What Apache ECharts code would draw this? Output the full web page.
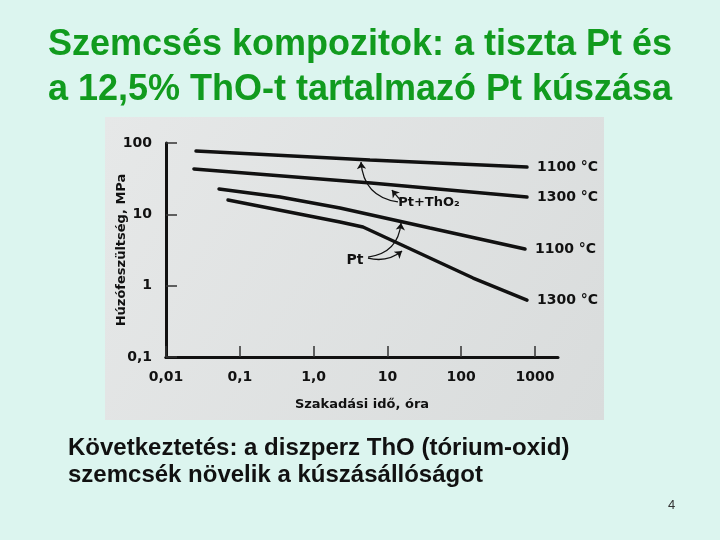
<!DOCTYPE html>
<html>
<head>
<meta charset="utf-8">
<script src="https://cdn.jsdelivr.net/npm/echarts@6/dist/echarts.min.js"></script>
<style>html,body{margin:0;padding:0;background:#dcf5ef;}#c{width:720px;height:540px;}</style>
</head>
<body>
<div id="c"></div>
<script>
// ---- data ----
const titleLines = ['Szemcsés kompozitok: a tiszta Pt és', 'a 12,5% ThO-t tartalmazó Pt kúszása'];
const noteLines = ['Következtetés: a diszperz ThO (tórium-oxid)', 'szemcsék növelik a kúszásállóságot'];
const pageNo = '4';
const xAxisName = 'Szakadási idő, óra';
const yAxisName = 'Húzófeszültség, MPa';
const xTickValues = [0.01, 0.1, 1, 10, 100, 1000];
const xTickLabels = ['0,01', '0,1', '1,0', '10', '100', '1000'];
const yTickValues = [0.1, 1, 10, 100];
const yTickLabels = ['0,1', '1', '10', '100'];
const seriesNames = ['Pt+ThO₂ 1100 °C', 'Pt+ThO₂ 1300 °C', 'Pt 1100 °C', 'Pt 1300 °C'];
const endTexts = ['1100 °C', '1300 °C', '1100 °C', '1300 °C'];
// [time (h), stress (MPa)]
const ptTho2_1100 = [[0.0255, 77.3], [5.8, 57.8], [779, 46]];
const ptTho2_1300 = [[0.0239, 43.2], [6.0, 27.5], [779, 17.5]];
const pt_1100 = [[0.0523, 22.6], [0.351, 17.5], [2.28, 12.3], [37.8, 6.43], [732, 3.26]];
const pt_1300 = [[0.0692, 15.9], [2.28, 7.8], [4.67, 6.64], [145, 1.28], [779, 0.628]];
// annotations: label positions and arrows [from, to, curveness]
const labelThO2 = {text: 'Pt+ThO₂', at: [36.6, 14.4], size: 13};
const labelPt = {text: 'Pt', at: [3.64, 2.29], size: 14};
const arrows = [
  [[13.9, 14.9], [4.39, 54.2], 0.4],
  [[15.3, 15.4], [11.5, 21.9], 0],
  [[5.46, 2.52], [15.3, 7.55], -0.4],
  [[5.46, 2.44], [15.8, 3.06], -0.25]
];

const FONT = 'DejaVu Sans';
function findLabel(vals, labels, v) {
  const i = vals.findIndex(t => Math.abs(Math.log10(t) - Math.log10(v)) < 1e-6);
  return i >= 0 ? labels[i] : '';
}
function labelPoint(l) {
  return {coord: l.at, value: l.text, symbol: 'rect', symbolSize: [1, 1], itemStyle: {color: 'rgba(0,0,0,0)'},
    label: {show: true, position: 'inside', formatter: l.text, color: '#111', fontSize: l.size, fontWeight: 'bold', fontFamily: FONT}};
}
const datasets = [ptTho2_1100, ptTho2_1300, pt_1100, pt_1300];

const chart = echarts.init(document.getElementById('c'), null, {renderer: 'canvas'});
const series = datasets.map((d, i) => ({
  name: seriesNames[i], type: 'line', xAxisIndex: 0, yAxisIndex: 0, data: d,
  showSymbol: false, symbol: 'none', smooth: false, animation: false,
  lineStyle: {color: '#111', width: 3.5, cap: 'round'},
  endLabel: {show: true, formatter: endTexts[i], distance: 10, color: '#111', fontSize: 14, fontWeight: 'bold', fontFamily: FONT},
  z: 3
}));
series.push({
  type: 'lines', coordinateSystem: 'cartesian2d', xAxisIndex: 0, yAxisIndex: 0, silent: true, animation: false,
  symbol: ['none', 'arrow'], symbolSize: 7,
  lineStyle: {color: '#111', width: 1.3, opacity: 1},
  data: arrows.map(a => ({coords: [a[0], a[1]], lineStyle: {curveness: a[2]}})),
  z: 4
});
series.push({
  type: 'scatter', xAxisIndex: 0, yAxisIndex: 0, data: [], silent: true,
  markPoint: {silent: true, animation: false, data: [labelPoint(labelThO2), labelPoint(labelPt)]}
});

const option = {
  backgroundColor: '#dcf5ef',
  animation: false,
  grid: [
    {left: 166, top: 143, width: 369, height: 214, containLabel: false},
    {left: 166, top: 143, width: 392, height: 214, containLabel: false}
  ],
  xAxis: [
    {type: 'log', gridIndex: 0, min: 0.01, max: 1000, logBase: 10,
      axisLine: {show: true, lineStyle: {color: '#111', width: 3}},
      axisTick: {show: true, inside: true, length: 11, lineStyle: {color: '#333', width: 1.5}},
      axisLabel: {margin: 13, color: '#111', fontSize: 14, fontWeight: 'bold', fontFamily: FONT,
        formatter: v => findLabel(xTickValues, xTickLabels, v)},
      splitLine: {show: false}, minorTick: {show: false}},
    {type: 'log', gridIndex: 1, min: 0.01, max: 2051, logBase: 10,
      axisLine: {show: true, lineStyle: {color: '#111', width: 3}},
      axisTick: {show: false}, axisLabel: {show: false}, splitLine: {show: false},
      name: xAxisName, nameLocation: 'middle', nameGap: 41, nameMoveOverlap: false,
      nameTextStyle: {color: '#111', fontSize: 13, fontWeight: 'bold', fontFamily: FONT}}
  ],
  yAxis: [
    {type: 'log', gridIndex: 0, min: 0.1, max: 100, logBase: 10,
      axisLine: {show: true, lineStyle: {color: '#111', width: 3}},
      axisTick: {show: true, inside: true, length: 11, lineStyle: {color: '#333', width: 1.5}},
      axisLabel: {margin: 14, color: '#111', fontSize: 14, fontWeight: 'bold', fontFamily: FONT,
        formatter: v => findLabel(yTickValues, yTickLabels, v)},
      splitLine: {show: false}, minorTick: {show: false},
      name: yAxisName, nameLocation: 'middle', nameGap: 38, nameMoveOverlap: false,
      nameTextStyle: {color: '#111', fontSize: 13, fontWeight: 'bold', fontFamily: FONT}},
    {type: 'log', gridIndex: 1, min: 0.1, max: 100, show: false}
  ],
  graphic: [
    {type: 'rect', z: -10, shape: {x: 105, y: 117, width: 499, height: 303},
      style: {fill: new echarts.graphic.LinearGradient(0, 0, 1, 1, [{offset: 0, color: '#e6e8e8'}, {offset: 1, color: '#d9dcdc'}])}},
    {type: 'text', left: 'center', top: 27, style: {text: titleLines[0], font: 'bold 36px "Liberation Sans", Arial, sans-serif', fill: '#119b1e'}},
    {type: 'text', left: 'center', top: 72, style: {text: titleLines[1], font: 'bold 36px "Liberation Sans", Arial, sans-serif', fill: '#119b1e'}},
    {type: 'text', left: 68, top: 436, style: {text: noteLines[0], font: 'bold 24px "Liberation Sans", Arial, sans-serif', fill: '#111'}},
    {type: 'text', left: 68, top: 463, style: {text: noteLines[1], font: 'bold 24px "Liberation Sans", Arial, sans-serif', fill: '#111'}},
    {type: 'text', left: 668, top: 499, style: {text: pageNo, font: '13px "Liberation Sans", Arial, sans-serif', fill: '#333'}}
  ],
  series: series
};
chart.setOption(option);
</script>
</body>
</html>
